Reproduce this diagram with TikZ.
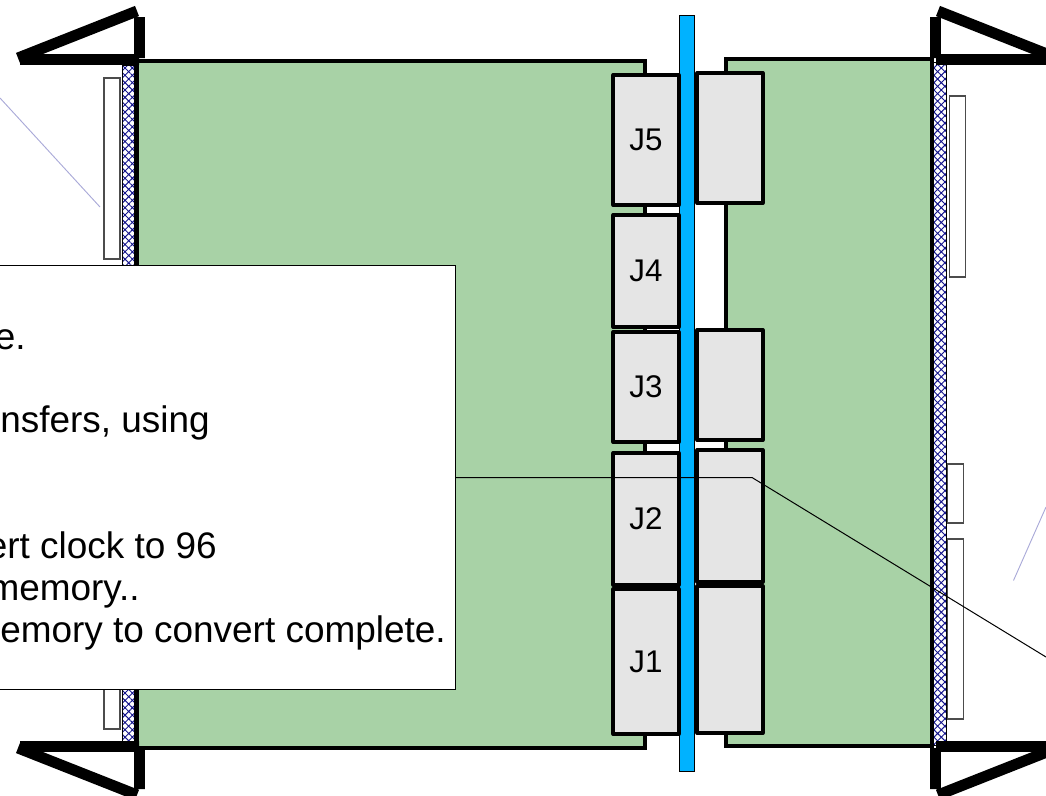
\documentclass[tikz,border=0pt]{standalone}
\usepackage{fontspec}
\setmainfont{Liberation Sans}
\usetikzlibrary{
  patterns.meta
}
\definecolor{boardgreen}{HTML}{A8D2A6}
\definecolor{connfill}{HTML}{E5E5E5}
\definecolor{planeblue}{HTML}{00B2FF}
\definecolor{hatchblue}{HTML}{14148C}
\definecolor{leaderblue}{HTML}{AAAAD8}

\begin{document}
\begin{tikzpicture}[x=0.75pt,y=-0.75pt]
  \tikzset{
    board/.style = {draw=black,line width=2.7pt,fill=boardgreen},
    panel/.style = {draw=black,line width=.5pt,pattern={Hatch[angle=45,distance=3.9pt,line width=.7pt]},pattern color=hatchblue},
    conn/.style = {draw=black,line width=3pt,fill=connfill,line join=round,minimum width=49pt,inner sep=0pt},
    frontbox/.style = {draw=black!70,line width=.8pt,fill=white},
    leader/.style = {draw=leaderblue,line width=.7pt},
    callout/.style = {draw=black,line width=.75pt},
    bartext/.style = {font=\fontsize{23.5}{23.5}\selectfont},
    notetext/.style = {anchor=base east,inner sep=0pt,font=\fontsize{27.7}{27.7}\selectfont},
    handle/.pic = {
      \draw[line width=8.2pt,black]
      (5,59.5) -- (-114,59.5)
      (5.5,58) -- (5.5,17)
      (3,11) -- (-116,58)
      ;
    }
  }
  \useasboundingbox (0,0) rectangle (1046,796);

  % boards
  \draw[board] (137,61) rectangle (645,748);
  \draw[board] (726,59) rectangle (932,746);

  % front panels
  \draw[panel] (122.5,65) rectangle (134,745);
  \draw[panel] (933,62) rectangle (946.5,745);
  \draw[black,line width=2.4pt] (135.5,62) -- (135.5,746);
  \foreach \x/\y/\z/\w in {104/78/120/259,104/640/120/729,949.5/96/965.5/277,947.5/464/963.5/523,947.5/539/963.5/719}
  \draw[frontbox] (\x,\y) rectangle (\z,\w);

  % backplane
  \draw[black,line width=.6pt,fill=planeblue] (679.5,15) rectangle (694.5,771);

  % connectors
  \foreach \name/\y/\z in {J5/73/207,J4/213/329,J3/330/444,J2/451/587,J1/587/736}
  \node[conn,bartext,minimum height={(\z-\y)*0.75pt-3pt}] (\name) at (646,{(\y+\z)/2}) {\name};
  \foreach \name/\y/\z in {r5/71/205,r3/328/442,r2/448/584,r1/584/735}
  \node[conn,minimum height={(\z-\y)*0.75pt-3pt}] (\name) at (730,{(\y+\z)/2}) {};

  % handles
  \pic at (134,0) {handle};
  \pic[yscale=-1] at (134,806) {handle};
  \pic[xscale=-1] at (941,0) {handle};
  \pic[xscale=-1,yscale=-1] at (941,806) {handle};

  \draw[leader] (0,98) -- (100,207);
  \draw[leader] (1013.5,580.5) -- (1046,507);

  % note box
  \node[draw=black,line width=.75pt,fill=white,minimum width=342pt,minimum height=318pt,anchor=north east] (note) at (456,265) {};
  \node[notetext] (line1) at (26,349) {e.};
  \node[notetext] (line2) at (210,432) {nsfers, using};
  \node[notetext] (line3) at (217,558) {ert clock to 96};
  \node[notetext] (line4) at (140,600) {memory..};
  \node[notetext] (line5) at (446,642) {emory to convert complete.};

  \coordinate (bend) at (752,477.5);
  \coordinate (tail) at (1046,657);
  \draw[callout] (note.east |- bend) -- (bend) -- (tail);
\end{tikzpicture}
\end{document}
